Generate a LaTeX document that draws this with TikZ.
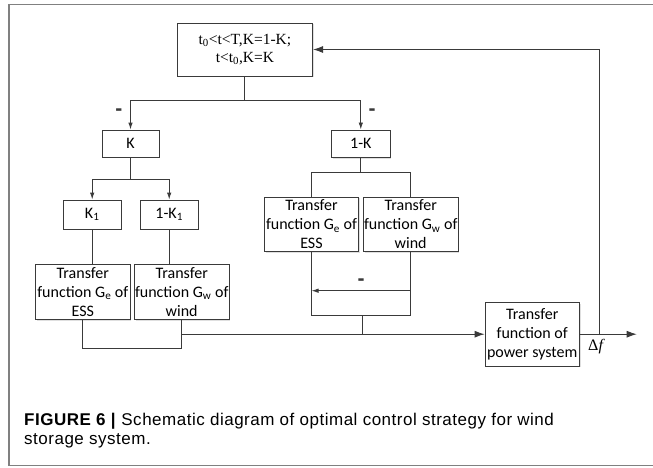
\documentclass[tikz,border=0pt]{standalone}
\usepackage{fontspec}
\setmainfont{Carlito}
\newfontfamily\boxfont{Carlito}
\newfontfamily\timesfont{Liberation Serif}
\newfontfamily\capfont[LetterSpace=3]{Liberation Sans}
\newfontfamily\minusfont{Liberation Sans}
\usetikzlibrary{arrows.meta,shadows}
\definecolor{ln}{HTML}{3A3A3A}
\definecolor{frame}{HTML}{808080}
\tikzset{
  blk/.style={draw=ln, line width=0.9pt, fill=white, inner sep=0pt, align=center,
    font=\boxfont\fontsize{16}{19}\selectfont,
    drop shadow={opacity=0.25, shadow xshift=1.2pt, shadow yshift=-1.2pt}},
  wire/.style={draw=ln, line width=0.9pt},
  bigarr/.style={wire, -{Latex[length=10pt,width=7pt]}},
  smallarr/.style={wire, -{Latex[length=7pt,width=4.5pt]}},
  minus/.style={font=\minusfont\bfseries\fontsize{21}{21}\selectfont, inner sep=0pt, text=ln},
  captext/.style={anchor=base west, inner sep=0pt, font=\capfont\fontsize{17}{19}\selectfont},
}
\begin{document}
\begin{tikzpicture}[x=1pt,y=-1pt]
\useasboundingbox (0,0) rectangle (653,467);
% outer frame
\draw[frame, line width=1.2pt] (660,4.3) -- (9,4.3) -- (9,465.7) -- (660,465.7);

% boxes
\node[blk, minimum width=135.5pt, minimum height=53pt, font=\timesfont\fontsize{15.5}{18.3}\selectfont]
  (top) at (244.9,49.5) {t\textsubscript{0}<t<T,K=1-K;\\t<t\textsubscript{0},K=K};
\node[blk, minimum width=57pt, minimum height=27pt] (K) at (130.5,143.5) {K};
\node[blk, minimum width=58.5pt, minimum height=27.5pt] (oneK) at (360.8,143.7) {1-K};
\node[blk, minimum width=57.7pt, minimum height=29pt] (K1) at (92.2,214.5) {K\textsubscript{1}};
\node[blk, minimum width=57.7pt, minimum height=29pt] (oneK1) at (169.2,214.5) {1-K\textsubscript{1}};
\node[blk, minimum width=94.3pt, minimum height=55pt] (ess1) at (82.8,291.8)
  {Transfer\\function G\textsubscript{e} of\\ESS};
\node[blk, minimum width=94.7pt, minimum height=55pt] (wind1) at (181.7,291.8)
  {Transfer\\function G\textsubscript{w} of\\wind};
\node[blk, minimum width=94.4pt, minimum height=54.5pt] (ess2) at (311.5,224.2)
  {Transfer\\function G\textsubscript{e} of\\ESS};
\node[blk, minimum width=94.7pt, minimum height=54.5pt] (wind2) at (410.7,224.2)
  {Transfer\\function G\textsubscript{w} of\\wind};
\node[blk, minimum width=94.3pt, minimum height=63.7pt] (pow) at (532.2,334.2)
  {Transfer\\function of\\power system};

% top split
\coordinate (s1) at (244.9,100);
\draw[wire] (top.south) -- (s1);
\draw[smallarr] (s1) -| (K.north);
\draw[smallarr] (s1) -| (oneK.north);
\node[minus] (m1) at (118.8,112.5) {-};
\node[minus] (m2) at (372,112.5) {-};

% K split
\coordinate (s2) at (130.5,179);
\draw[wire] (K.south) -- (s2);
\draw[smallarr] (s2) -| (K1.north);
\draw[smallarr] (s2) -| (oneK1.north);
\draw[wire] (K1.south) -- (K1.south |- ess1.north);
\draw[wire] (oneK1.south) -- (oneK1.south |- wind1.north);

% left sum
\coordinate (j1) at (181.7,334.2);
\draw[wire] (ess1.south) -- ++(0,28.4) -| (wind1.south);

% 1-K split
\coordinate (s3) at (360.8,172.7);
\draw[wire] (oneK.south) -- (s3);
\draw[wire] (s3) -| (ess2.north);
\draw[wire] (s3) -| (wind2.north);

% right combination
\coordinate (c1) at (410.7,290.7);
\coordinate (c2) at (311.5,290.7);
\draw[wire] (wind2.south) -- (410.7,315) -- (311.5,315) -- (ess2.south);
\draw[smallarr] (c1) -- (c2);
\node[minus] (m3) at (361,282.3) {-};
\coordinate (j2) at (362.3,315);
\coordinate (j3) at (362.3,334.2);
\draw[wire] (j2) -- (j3);

% main line
\draw[bigarr] (j1) -- (pow.west);
\coordinate (out) at (636.7,334.2);
\coordinate (fb) at (599.3,334.2);
\draw[bigarr] (pow.east) -- (out);
\draw[bigarr] (fb) -- (599.3,49.5) -- (top.east);
\node[font=\timesfont\fontsize{16}{16}\selectfont, inner sep=0pt] (df) at (596.5,347) {Δ\textit{f}};

% caption
\node[captext] (cap1) at (24,425) {\textbf{FIGURE 6 |} Schematic diagram of optimal control strategy for wind};
\node[captext] (cap2) at (24,444) {storage system.};
\end{tikzpicture}
\end{document}
